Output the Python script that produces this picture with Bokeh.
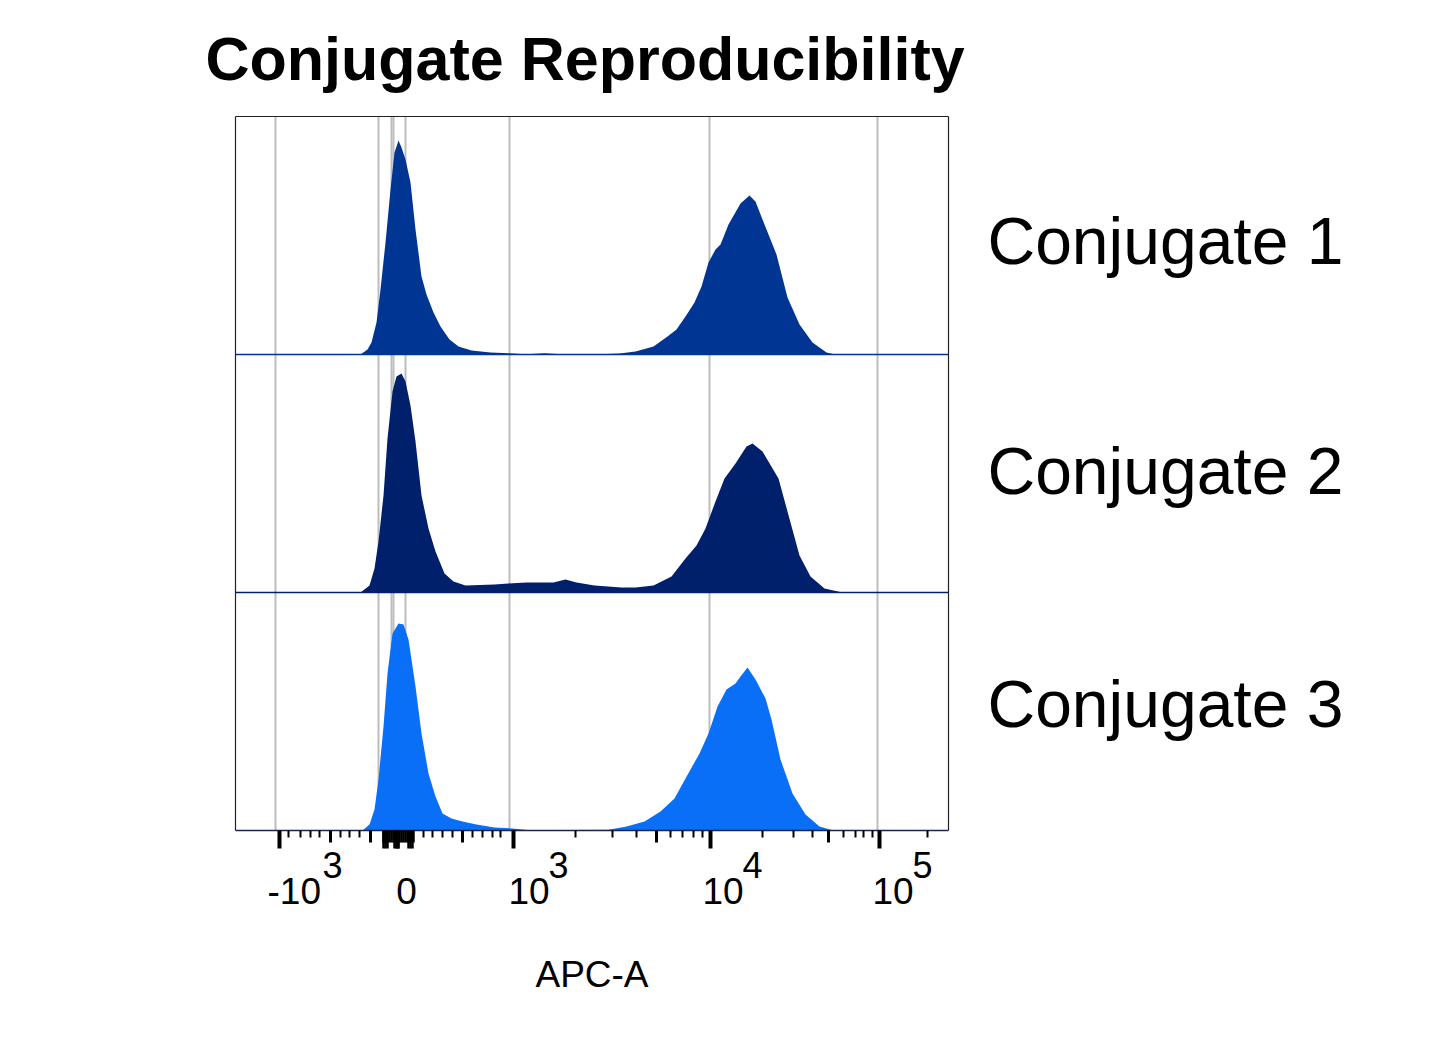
import numpy as np
from bokeh.plotting import figure
from bokeh.models import Range1d
from bokeh.core.properties import value
from bokeh.embed import file_html
from bokeh.resources import INLINE

# ---------------- data ----------------
TITLE = "Conjugate Reproducibility"
X_LABEL = "APC-A"
SAMPLES = ["Conjugate 1", "Conjugate 2", "Conjugate 3"]

# display channel on the APC-A (biexponential) scale, and relative count per sample
C1_X = [125, 132, 136, 141, 145, 150, 155, 159, 163, 166, 170, 175, 180, 186, 191, 198, 205, 214, 223, 236,
        255, 273, 291, 309, 327, 364, 384, 400, 418, 432, 441, 450, 459, 466, 473, 480, 485, 493, 505, 514,
        520, 527, 541, 552, 564, 577, 591, 600]
C1_Y = [0, 5, 12, 32, 65, 112, 165, 202, 214, 207, 195, 172, 125, 78, 60, 42, 28, 15, 8, 4,
        2, 1.3, 0.3, 1.3, 0.3, 0.3, 1, 3, 8, 18, 25, 38, 52, 68, 92, 105, 110, 130, 151, 159,
        153, 135, 100, 57, 30, 12, 2, 0]

C2_X = [125, 134, 139, 143, 148, 152, 157, 161, 166, 170, 175, 180, 186, 193, 200, 209, 218, 230, 259, 273,
        291, 318, 330, 341, 359, 386, 400, 418, 436, 450, 461, 470, 480, 489, 500, 511, 517, 527, 543, 552,
        564, 575, 589, 607]
C2_Y = [0, 7, 24, 51, 97, 154, 201, 216, 219, 211, 187, 151, 97, 64, 41, 19, 11, 7, 8, 9,
        10, 10, 13, 10, 7, 5, 5, 7, 16, 34, 47, 64, 91, 114, 129, 146, 149, 141, 114, 81,
        37, 16, 4, 0]

C3_X = [127, 134, 139, 143, 148, 152, 157, 163, 168, 173, 180, 186, 193, 200, 207, 216, 227, 241, 259, 277,
        295, 373, 391, 409, 425, 439, 450, 464, 473, 482, 491, 500, 505, 512, 520, 530, 536, 545, 557, 570,
        584, 598]
C3_Y = [0, 6, 21, 51, 104, 157, 197, 207, 206, 191, 144, 97, 57, 34, 17, 12, 9, 6, 3, 2,
        0.3, 0.7, 4, 9, 19, 32, 52, 77, 97, 124, 141, 147, 154, 163, 151, 132, 111, 71, 37, 16,
        4, 0]

# axis ticks (display channel) and their labels: base text and exponent
MAJOR_TICKS = [44, 162, 278, 475, 644]
TICK_BASE = ["-10", "0", "10", "10", "10"]
TICK_EXP = ["3", "", "3", "4", "5"]
MEDIUM_TICKS = [95, 135, 227, 421, 593]
MINOR_TICKS = [53, 65, 75, 84, 105, 114, 124, 188, 197, 207, 217, 237, 247, 257, 265,
               340, 377, 401, 435, 447, 458, 467, 527, 558, 577, 608, 620, 628, 637, 692]
ZERO_CLUSTER = [148, 150, 152, 154, 156, 158, 160, 162, 164, 166, 168, 170, 172, 174, 176, 178]
ZERO_CLUSTER_LONG = [148, 150, 152, 159, 161, 163, 173, 175, 177]
GRID_LINES = [40, 143, 156, 158, 170, 274, 474, 642]

# ---------------- style / layout ----------------
COLORS = ["#003594", "#00206C", "#0A6FF7"]
FONT = "Liberation Sans"
PANEL_H = 238
X_MAX = 713                      # right edge of the plotting box (channel)
Y_MAX = 3 * PANEL_H              # top edge of the plotting box
W, H = 1430, 1049
LEFT_PX, BOTTOM_PX = 235, 830    # where channel 0 / count 0 sit on the page
NAME_DY = [114, 122, 127]        # vertical placement of sample names inside each panel

p = figure(width=W, height=H, output_backend="svg", toolbar_location=None,
           x_range=Range1d(-LEFT_PX, W - LEFT_PX), y_range=Range1d(BOTTOM_PX - H, BOTTOM_PX),
           x_axis_location=None, y_axis_location=None,
           min_border=0, min_border_left=0, min_border_right=0, min_border_top=0, min_border_bottom=0)
p.background_fill_color = "white"
p.border_fill_color = "white"
p.outline_line_color = None
p.grid.visible = False

# vertical grid lines across the three panels
p.segment(x0=GRID_LINES, y0=[0] * len(GRID_LINES), x1=GRID_LINES, y1=[Y_MAX] * len(GRID_LINES),
          line_color="#BDBDBD", line_width=2)

series = [(C1_X, C1_Y), (C2_X, C2_Y), (C3_X, C3_Y)]
for k, ((xs, ys), color) in enumerate(zip(series, COLORS)):
    base = (2 - k) * PANEL_H
    xs = np.array(xs, dtype=float)
    ys = np.array(ys, dtype=float)
    p.varea(x=xs, y1=np.full_like(ys, base), y2=ys + base, fill_color=color)
    if k < 2:
        p.segment(x0=[0], y0=[base], x1=[X_MAX], y1=[base], line_color=color, line_width=1.5)

# sample names to the right of each panel
p.text(x=[X_MAX] * 3, y=[(2 - k) * PANEL_H + NAME_DY[k] for k in range(3)], text=SAMPLES,
       x_offset=39, text_font=value(FONT), text_font_size=value("66px"), text_color="black",
       text_align="left", text_baseline="alphabetic")

# plotting box
p.segment(x0=[0, X_MAX, 0], y0=[0, 0, Y_MAX], x1=[0, X_MAX, X_MAX], y1=[Y_MAX, Y_MAX, Y_MAX],
          line_color="#222222", line_width=1.2)
p.segment(x0=[0], y0=[0], x1=[X_MAX], y1=[0], line_color="#1A2550", line_width=1.5)

# axis ticks
def ticks(xs, length, width):
    p.segment(x0=xs, y0=[0] * len(xs), x1=xs, y1=[-length] * len(xs),
              line_color="black", line_width=width, line_cap="butt")

ticks(MINOR_TICKS, 7, 2)
ticks(MEDIUM_TICKS, 12, 3)
ticks(ZERO_CLUSTER, 12, 2.5)
ticks(ZERO_CLUSTER_LONG, 18, 2.5)
ticks(MAJOR_TICKS, 18, 4)

# tick labels with superscript exponents
base_dx = [-12, 9, -5, -8, -7]
base_w = {"-10": 55, "10": 40}
for t, b, e, dx in zip(MAJOR_TICKS, TICK_BASE, TICK_EXP, base_dx):
    if e:
        p.text(x=[t], y=[-60], text=[b], x_offset=dx, text_font=value(FONT),
               text_font_size=value("37px"), text_color="black", text_align="left",
               text_baseline="alphabetic")
        p.text(x=[t], y=[-34], text=[e], x_offset=dx + base_w[b], text_font=value(FONT),
               text_font_size=value("36px"), text_color="black", text_align="left",
               text_baseline="alphabetic")
    else:
        p.text(x=[t], y=[-60], text=[b], x_offset=dx, text_font=value(FONT),
               text_font_size=value("37px"), text_color="black", text_align="center",
               text_baseline="alphabetic")

# axis title
p.text(x=[X_MAX / 2], y=[-144], text=[X_LABEL], text_font=value(FONT), text_font_size=value("37px"),
       text_color="black", text_align="center", text_baseline="alphabetic")

# chart title
p.text(x=[-30], y=[772], text=[TITLE], text_font=value(FONT), text_font_size=value("61px"),
       text_font_style="bold", text_color="black", text_align="left", text_baseline="alphabetic")

open("out.html", "w").write(file_html(p, INLINE))
